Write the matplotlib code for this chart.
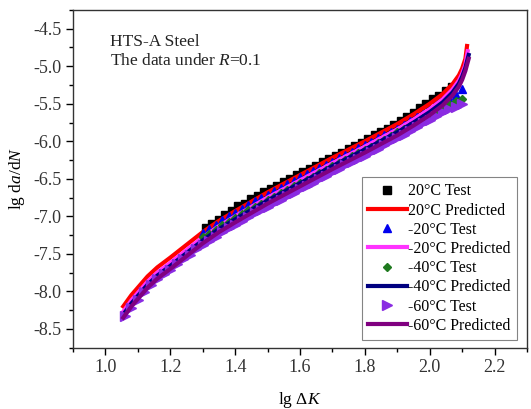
import matplotlib
matplotlib.use("Agg")
import matplotlib.pyplot as plt

plt.rcParams['font.family'] = ['Liberation Serif', 'DejaVu Serif']
plt.rcParams['mathtext.fontset'] = 'custom'
plt.rcParams['mathtext.rm'] = 'Liberation Serif'
plt.rcParams['mathtext.it'] = 'Liberation Serif:italic'

# ---- Test data ----
x_20 = [1.31, 1.33, 1.35, 1.37, 1.39, 1.41, 1.43, 1.45, 1.47, 1.49, 1.51, 1.53, 1.55, 1.57, 1.59,
        1.61, 1.63, 1.65, 1.67, 1.69, 1.71, 1.73, 1.75, 1.77, 1.79, 1.81, 1.83, 1.85, 1.87, 1.89,
        1.91, 1.93, 1.95, 1.97, 1.99, 2.01, 2.03, 2.05, 2.07]
y_20 = [-7.16, -7.10, -7.05, -6.98, -6.93, -6.86, -6.83, -6.77, -6.73, -6.68, -6.64, -6.59, -6.54, -6.50, -6.45,
        -6.41, -6.37, -6.33, -6.28, -6.23, -6.20, -6.15, -6.10, -6.06, -6.02, -5.97, -5.92, -5.88, -5.83, -5.78,
        -5.73, -5.68, -5.62, -5.56, -5.50, -5.44, -5.39, -5.33, -5.27]

x_m20 = [1.30, 1.32, 1.34, 1.36, 1.38, 1.40, 1.42, 1.44, 1.46, 1.48, 1.50, 1.52, 1.54, 1.56, 1.58, 1.60,
         1.62, 1.64, 1.66, 1.68, 1.70, 1.72, 1.74, 1.76, 1.78, 1.80, 1.82, 1.84, 1.86, 1.88, 1.90, 1.92,
         1.94, 1.96, 1.98, 2.00, 2.02, 2.04, 2.06, 2.08, 2.10]
y_m20 = [-7.22, -7.17, -7.11, -7.05, -7.00, -6.95, -6.90, -6.85, -6.80, -6.75, -6.71, -6.66, -6.62, -6.57, -6.53, -6.48,
         -6.44, -6.40, -6.35, -6.31, -6.27, -6.22, -6.18, -6.14, -6.09, -6.05, -6.01, -5.96, -5.92, -5.87, -5.83, -5.78,
         -5.73, -5.68, -5.63, -5.58, -5.53, -5.48, -5.43, -5.38, -5.30]

x_m40 = [1.30, 1.32, 1.34, 1.36, 1.38, 1.40, 1.42, 1.44, 1.46, 1.48, 1.50, 1.52, 1.54, 1.56, 1.58, 1.60,
         1.62, 1.64, 1.66, 1.68, 1.70, 1.72, 1.74, 1.76, 1.78, 1.80, 1.82, 1.84, 1.86, 1.88, 1.90, 1.92,
         1.94, 1.96, 1.98, 2.00, 2.02, 2.04, 2.06, 2.08, 2.10]
y_m40 = [-7.28, -7.23, -7.18, -7.12, -7.07, -7.02, -6.97, -6.92, -6.88, -6.83, -6.78, -6.74, -6.69, -6.65, -6.60, -6.56,
         -6.51, -6.47, -6.42, -6.38, -6.33, -6.29, -6.25, -6.20, -6.16, -6.11, -6.07, -6.02, -5.98, -5.93, -5.88, -5.84,
         -5.79, -5.74, -5.69, -5.64, -5.59, -5.54, -5.50, -5.46, -5.43]

x_m60 = [1.06, 1.08, 1.10, 1.12, 1.14, 1.16, 1.18, 1.20, 1.22, 1.24, 1.26, 1.28, 1.30, 1.32, 1.34, 1.36,
         1.38, 1.40, 1.42, 1.44, 1.46, 1.48, 1.50, 1.52, 1.54, 1.56, 1.58, 1.60, 1.62, 1.64, 1.66, 1.68,
         1.70, 1.72, 1.74, 1.76, 1.78, 1.80, 1.82, 1.84, 1.86, 1.88, 1.90, 1.92, 1.94, 1.96, 1.98, 2.00,
         2.02, 2.04, 2.06, 2.08, 2.10]
y_m60 = [-8.33, -8.22, -8.11, -8.01, -7.92, -7.84, -7.77, -7.71, -7.64, -7.57, -7.51, -7.44, -7.38, -7.33, -7.27, -7.21,
         -7.16, -7.11, -7.06, -7.01, -6.96, -6.92, -6.87, -6.82, -6.78, -6.73, -6.69, -6.64, -6.59, -6.55, -6.50, -6.46,
         -6.41, -6.37, -6.32, -6.28, -6.23, -6.19, -6.14, -6.10, -6.05, -6.00, -5.96, -5.91, -5.86, -5.81, -5.76, -5.71,
         -5.66, -5.61, -5.57, -5.54, -5.50]

# ---- Predicted curves ----
xp_20 = [1.055, 1.08, 1.10, 1.13, 1.16, 1.20, 1.25, 1.30, 1.35, 1.40, 1.50, 1.60, 1.70, 1.80, 1.90, 1.95,
         2.00, 2.04, 2.07, 2.09, 2.10, 2.11, 2.115]
yp_20 = [-8.20, -8.05, -7.95, -7.80, -7.68, -7.55, -7.38, -7.21, -7.06, -6.93, -6.68, -6.45, -6.22, -6.00, -5.77, -5.64,
         -5.50, -5.37, -5.24, -5.12, -5.03, -4.90, -4.73]
xp_m20 = [1.055, 1.08, 1.10, 1.13, 1.16, 1.20, 1.25, 1.30, 1.35, 1.40, 1.50, 1.60, 1.70, 1.80, 1.90, 1.95,
          2.00, 2.04, 2.07, 2.09, 2.10, 2.11, 2.117]
yp_m20 = [-8.27, -8.12, -8.02, -7.87, -7.75, -7.62, -7.45, -7.28, -7.13, -7.00, -6.75, -6.52, -6.29, -6.07, -5.84, -5.71,
          -5.57, -5.44, -5.31, -5.19, -5.10, -4.98, -4.80]
xp_m40 = [1.055, 1.08, 1.10, 1.13, 1.16, 1.20, 1.25, 1.30, 1.35, 1.40, 1.50, 1.60, 1.70, 1.80, 1.90, 1.95,
          2.00, 2.04, 2.07, 2.09, 2.10, 2.11, 2.12]
yp_m40 = [-8.31, -8.16, -8.06, -7.91, -7.79, -7.66, -7.49, -7.32, -7.17, -7.04, -6.79, -6.56, -6.33, -6.11, -5.88, -5.75,
          -5.61, -5.48, -5.35, -5.23, -5.14, -5.02, -4.85]
xp_m60 = [1.055, 1.08, 1.10, 1.13, 1.16, 1.20, 1.25, 1.30, 1.35, 1.40, 1.50, 1.60, 1.70, 1.80, 1.90, 1.95,
          2.00, 2.04, 2.07, 2.09, 2.10, 2.11, 2.12]
yp_m60 = [-8.35, -8.20, -8.10, -7.95, -7.83, -7.70, -7.53, -7.36, -7.21, -7.08, -6.83, -6.60, -6.37, -6.15, -5.92, -5.79,
          -5.65, -5.52, -5.39, -5.27, -5.18, -5.06, -4.90]

xticks = [1.0, 1.2, 1.4, 1.6, 1.8, 2.0, 2.2]
yticks = [-8.5, -8.0, -7.5, -7.0, -6.5, -6.0, -5.5, -5.0, -4.5]

fig = plt.figure(figsize=(5.31, 4.09), dpi=100)
ax = fig.add_axes([0.1375, 0.150, 0.855, 0.8256])

ms = 5.5
ax.plot(x_20, y_20, ls='none', marker='s', ms=ms, color='black', label='20°C Test')
ax.plot(xp_20, yp_20, color='#ff0000', lw=3, label='20°C Predicted')
ax.plot(x_m20, y_m20, ls='none', marker='^', ms=ms + 0.5, color='#0000ee', label='-20°C Test')
ax.plot(xp_m20, yp_m20, color='#ff33ff', lw=3, label='-20°C Predicted')
ax.plot(x_m40, y_m40, ls='none', marker='D', ms=ms - 1.5, color='#1f7a1f', label='-40°C Test')
ax.plot(xp_m40, yp_m40, color='#000080', lw=3, label='-40°C Predicted')
ax.plot(x_m60, y_m60, ls='none', marker='>', ms=ms + 2, color='#8a2be2', label='-60°C Test')
ax.plot(xp_m60, yp_m60, color='#800080', lw=3, label='-60°C Predicted')

ax.set_xlim(0.9, 2.3)
ax.set_ylim(-8.75, -4.25)
ax.set_xticks(xticks)
ax.set_xticklabels([f'{v:.1f}' for v in xticks])
ax.set_yticks(yticks)
ax.set_yticklabels([f'{v:.1f}' for v in yticks])
ax.set_xticks([0.9, 1.1, 1.3, 1.5, 1.7, 1.9, 2.1, 2.3], minor=True)
ax.set_yticks([-8.75, -8.25, -7.75, -7.25, -6.75, -6.25, -5.75, -5.25, -4.75, -4.25], minor=True)
ax.tick_params(which='major', direction='out', length=5, width=1, labelsize=13, labelcolor='#333333',
               top=False, right=False)
ax.tick_params(which='minor', direction='out', length=3, width=1, top=False, right=False)
for s in ax.spines.values():
    s.set_linewidth(1.0)
    s.set_color('#333333')

ax.set_xlabel('lg Δ$K$', fontsize=12.5, labelpad=10)
ax.set_ylabel('lg d$a$/d$N$', fontsize=12.5, labelpad=4)

ax.text(0.081, 0.93, 'HTS-A Steel\nThe data under $R$=0.1', transform=ax.transAxes,
        fontsize=12.5, va='top', ha='left', linespacing=1.25, color='#222222')

leg = ax.legend(loc='lower right', bbox_to_anchor=(0.978, 0.022), borderaxespad=0,
                fontsize=11.5, fancybox=False, frameon=True, edgecolor='#666666',
                handlelength=2.4, handletextpad=0.1, labelspacing=0.2, borderpad=0.4,
                numpoints=1)
leg.get_frame().set_linewidth(0.8)

fig.savefig('out.png', dpi=100)
